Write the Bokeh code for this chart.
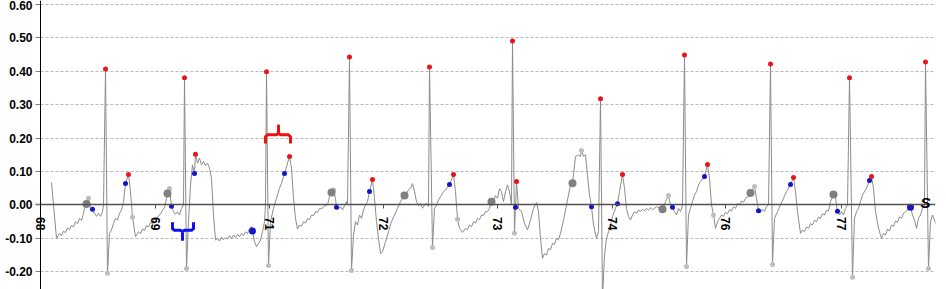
import math
from bokeh.plotting import figure
from bokeh.models import Range1d, FixedTicker, Label, NumeralTickFormatter, Span
from bokeh.embed import file_html
from bokeh.resources import INLINE

# ECG trace: sample index and amplitude (mV)
trace_t = [11, 16, 19, 21, 23, 25, 27, 29, 31, 33, 35, 37, 39, 41, 43, 44, 46, 48, 50, 52,
           54, 56, 58, 60, 62, 63, 65, 67, 69, 71, 73, 75, 77, 79, 81, 83, 85, 88, 90, 92,
           95, 98, 100, 102, 104, 106, 108, 110, 112, 114, 116, 118, 120, 122, 124, 126, 127, 129, 131, 133,
           135, 137, 139, 141, 143, 144, 146, 148, 150, 152, 154, 155, 157, 159, 161, 163, 165, 167, 169, 171,
           173, 175, 177, 179, 181, 183, 185, 187, 189, 191, 193, 195, 197, 199, 201, 203, 205, 207, 209, 211,
           212, 214, 216, 218, 220, 222, 224, 225, 226, 228, 230, 233, 236, 239, 241, 244, 249, 251, 253, 255,
           257, 259, 261, 263, 265, 267, 269, 271, 273, 275, 277, 279, 281, 283, 285, 287, 289, 291, 293, 295,
           296, 298, 300, 302, 304, 306, 307, 309, 311, 313, 315, 317, 319, 321, 323, 325, 327, 329, 332, 334,
           336, 338, 340, 342, 345, 348, 351, 354, 357, 360, 362, 364, 366, 368, 370, 372, 374, 376, 378, 380,
           382, 384, 386, 388, 389, 392, 394, 396, 398, 400, 403, 405, 409, 413, 415, 417, 419, 422, 425, 427,
           429, 431, 433, 435, 437, 439, 441, 443, 445, 447, 449, 451, 453, 455, 457, 459, 461, 463, 465, 467,
           469, 471, 472, 474, 475, 476, 478, 481, 484, 487, 490, 493, 496, 498, 500, 502, 504, 506, 508, 510,
           512, 514, 516, 518, 520, 523, 526, 530, 532, 535, 538, 540, 541, 543, 545, 547, 549, 551, 553, 556,
           558, 560, 562, 564, 566, 568, 570, 572, 575, 577, 579, 582, 584, 586, 588, 590, 592, 594, 596, 598,
           600, 602, 604, 606, 608, 610, 612, 614, 616, 618, 620, 622, 625, 628, 630, 632, 634, 636, 638, 640,
           642, 644, 646, 648, 650, 652, 654, 656, 658, 660, 664, 667, 669, 671, 673, 675, 677, 679, 681, 683,
           685, 687, 689, 691, 693, 695, 697, 699, 701, 703, 705, 708, 710, 714, 716, 718, 720, 722, 724, 726,
           728, 730, 732, 734, 737, 740, 743, 746, 750, 753, 755, 757, 760, 762, 764, 766, 768, 770, 772, 774,
           776, 778, 780, 782, 784, 786, 788, 790, 793, 795, 797, 799, 801, 803, 805, 807, 809, 812, 814, 816,
           818, 820, 822, 826, 829, 831, 833, 835, 838, 841, 843, 845, 847, 849, 851, 853, 855, 857, 859, 861,
           863, 865, 868, 870, 872, 874, 876, 878, 880, 882, 884, 885, 888, 890, 892, 894, 896, 898]
trace_mv = [0.067, -0.100, -0.085, -0.092, -0.078, -0.083, -0.068, -0.074, -0.060, -0.066, -0.050, -0.056, -0.040, -0.046, -0.025, -0.010, 0.003, 0.020, -0.005, -0.013,
            -0.025, -0.034, -0.025, -0.034, -0.020, 0.000, 0.407, -0.204, -0.085, -0.075, -0.055, -0.040, -0.045, -0.025, -0.015, 0.010, 0.064, 0.091, 0.040, -0.037,
            -0.095, -0.080, -0.086, -0.072, -0.076, -0.062, -0.066, -0.052, -0.056, -0.042, -0.046, -0.032, -0.028, -0.015, -0.008, 0.020, 0.034, 0.049, -0.004, -0.020,
            -0.028, -0.020, -0.030, -0.010, 0.000, 0.381, -0.190, -0.050, 0.060, 0.120, 0.094, 0.152, 0.125, 0.140, 0.120, 0.130, 0.118, 0.125, 0.110, 0.080,
            -0.030, -0.105, -0.100, -0.108, -0.096, -0.104, -0.098, -0.102, -0.092, -0.100, -0.090, -0.097, -0.088, -0.095, -0.085, -0.092, -0.080, -0.086, -0.070, -0.064,
            -0.078, -0.110, -0.125, -0.115, -0.105, -0.080, -0.050, 0.000, 0.399, -0.181, -0.050, -0.010, 0.020, 0.050, 0.065, 0.094, 0.145, 0.110, 0.020, -0.040,
            -0.072, -0.060, -0.064, -0.050, -0.054, -0.040, -0.044, -0.030, -0.032, -0.020, -0.022, -0.010, -0.012, -0.005, -0.002, 0.000, 0.025, 0.037, 0.045, 0.020,
            -0.007, -0.012, -0.005, -0.015, -0.002, 0.010, 0.000, 0.443, -0.196, -0.090, -0.050, -0.060, -0.030, -0.040, -0.015, 0.000, 0.010, 0.040, 0.076, 0.020,
            -0.050, -0.100, -0.145, -0.140, -0.110, -0.080, -0.050, -0.030, -0.010, 0.010, 0.020, 0.028, 0.035, 0.045, 0.050, 0.064, 0.040, 0.010, -0.002, 0.005,
            -0.010, 0.000, 0.005, -0.005, 0.413, -0.127, -0.010, 0.000, 0.015, 0.025, 0.040, 0.045, 0.061, 0.091, 0.040, -0.043, -0.070, -0.082, -0.070, -0.074,
            -0.060, -0.065, -0.050, -0.054, -0.040, -0.044, -0.030, -0.032, -0.020, -0.020, -0.010, 0.010, 0.010, 0.028, 0.020, 0.049, 0.040, 0.010, 0.040, 0.060,
            0.040, 0.000, 0.491, -0.085, -0.007, 0.070, -0.010, -0.020, -0.055, -0.075, -0.045, -0.010, 0.007, -0.020, -0.100, -0.160, -0.145, -0.150, -0.130, -0.134,
            -0.115, -0.118, -0.100, -0.104, -0.085, -0.046, 0.000, 0.060, 0.065, 0.145, 0.150, 0.145, 0.163, 0.145, 0.150, 0.088, 0.030, -0.005, -0.060, -0.100,
            -0.080, 0.318, -0.280, -0.150, -0.100, -0.080, -0.060, -0.035, -0.010, 0.004, 0.040, 0.091, 0.050, -0.010, -0.035, -0.045, -0.030, -0.020, -0.025, -0.015,
            -0.020, -0.012, -0.018, -0.010, -0.016, -0.008, -0.014, -0.010, -0.005, -0.008, -0.012, -0.013, 0.010, 0.028, 0.000, -0.007, -0.020, -0.030, -0.010, -0.020,
            0.000, 0.449, -0.184, -0.030, -0.010, 0.010, 0.030, 0.040, 0.060, 0.070, 0.085, 0.121, 0.080, 0.000, -0.030, -0.070, -0.050, -0.040, -0.030, -0.034,
            -0.022, -0.026, -0.014, -0.018, -0.006, -0.010, 0.004, 0.000, 0.012, 0.008, 0.020, 0.025, 0.036, 0.055, 0.020, -0.017, -0.022, -0.012, -0.020, -0.005,
            0.000, 0.422, -0.178, -0.040, -0.020, 0.000, 0.020, 0.040, 0.061, 0.082, 0.040, -0.020, -0.085, -0.075, -0.080, -0.066, -0.070, -0.056, -0.060, -0.046,
            -0.050, -0.036, -0.040, -0.026, -0.030, -0.016, -0.018, 0.010, 0.031, 0.020, -0.019, -0.030, -0.020, -0.030, -0.010, 0.000, 0.381, -0.216, -0.040, -0.020,
            -0.010, 0.010, 0.030, 0.050, 0.073, 0.085, 0.050, -0.020, -0.070, -0.100, -0.085, -0.090, -0.072, -0.078, -0.060, -0.064, -0.048, -0.052, -0.036, -0.040,
            -0.025, -0.020, -0.012, -0.007, -0.030, -0.045, -0.070, -0.040, -0.030, -0.010, 0.000, 0.428, -0.190, -0.050, -0.030, -0.045, -0.060, -0.100]

# R peaks (red)
r_t = [65, 144, 226, 309, 389, 472, 560, 644, 730, 809, 885]
r_mv = [0.407, 0.381, 0.399, 0.443, 0.413, 0.491, 0.318, 0.449, 0.422, 0.381, 0.428]
# T peaks (red)
tp_t = [88, 155, 249, 332, 413, 476, 582, 667, 753, 831]
tp_mv = [0.091, 0.152, 0.145, 0.076, 0.091, 0.070, 0.091, 0.121, 0.082, 0.085]
# blue markers
b_t = [52, 85, 131, 154, 244, 296, 329, 409, 475, 551, 577, 632, 664, 718, 750, 797, 829]
b_mv = [-0.013, 0.064, -0.004, 0.094, 0.094, -0.007, 0.040, 0.061, -0.007, -0.005, 0.004, -0.007, 0.085, -0.017, 0.061, -0.019, 0.073]
bb_t = [212, 870]
bb_mv = [-0.078, -0.007]
# P wave markers (gray)
p_t = [46, 127, 291, 364, 451, 532, 622, 710, 793]
p_mv = [0.003, 0.034, 0.037, 0.028, 0.010, 0.065, -0.013, 0.036, 0.031]
# light gray markers (S troughs, wave ends)
s_t = [67, 146, 228, 311, 392, 474, 646, 732, 812, 888, 48, 129, 293, 541, 628, 714, 92, 417, 673]
s_mv = [-0.204, -0.190, -0.181, -0.196, -0.127, -0.085, -0.184, -0.178, -0.216, -0.190,
        0.020, 0.049, 0.045, 0.163, 0.028, 0.055, -0.037, -0.043, -0.030]

# brace annotations
red_brace_t = [225, 225, 227, 236, 238, 238, 238, 240, 248, 250, 250]
red_brace_mv = [0.184, 0.204, 0.210, 0.210, 0.215, 0.237, 0.215, 0.210, 0.210, 0.204, 0.184]
blue_brace_t = [132, 132, 134, 140, 142, 142, 142, 144, 151, 153, 153]
blue_brace_mv = [-0.052, -0.071, -0.076, -0.076, -0.080, -0.103, -0.080, -0.076, -0.076, -0.071, -0.052]

x_ticks = [0, 115, 229, 343, 457, 572, 685, 801]
x_tick_labels = ["68", "69", "71", "72", "73", "74", "76", "77"]
y_ticks = [-0.2, -0.1, 0.0, 0.1, 0.2, 0.3, 0.4, 0.5, 0.6]

p = figure(width=946, height=289, output_backend="svg", toolbar_location=None,
           x_range=Range1d(-5, 895), y_range=Range1d(-0.253, 0.612),
           min_border_left=35, min_border_right=11, min_border_top=0, min_border_bottom=0)
p.outline_line_color = None
p.background_fill_color = "white"
p.border_fill_color = "white"

# y axis (line drawn at t = 0 as a span)
p.yaxis.ticker = FixedTicker(ticks=y_ticks)
p.yaxis.formatter = NumeralTickFormatter(format="0.00")
p.yaxis.axis_line_color = None
p.yaxis.major_tick_in = 5
p.yaxis.major_tick_out = 0
p.yaxis.major_tick_line_color = "#808080"
p.yaxis.minor_tick_line_color = None
p.yaxis.major_label_text_font = "Liberation Sans"
p.yaxis.major_label_text_font_style = "bold"
p.yaxis.major_label_text_font_size = "12px"
p.yaxis.major_label_text_color = "black"
p.yaxis.major_label_standoff = 3

# x axis at zero
p.xaxis.fixed_location = 0
p.xaxis.ticker = FixedTicker(ticks=x_ticks)
p.xaxis.major_label_overrides = {t: l for t, l in zip(x_ticks, x_tick_labels)}
p.xaxis.axis_line_color = "#505050"
p.xaxis.axis_line_width = 1.5
p.xaxis.major_tick_in = 0
p.xaxis.major_tick_out = 4
p.xaxis.major_tick_line_color = "#505050"
p.xaxis.minor_tick_line_color = None
p.xaxis.major_label_orientation = -math.pi / 2
p.xaxis.major_label_text_font = "Liberation Sans"
p.xaxis.major_label_text_font_style = "bold"
p.xaxis.major_label_text_font_size = "12px"
p.xaxis.major_label_text_color = "black"
p.xaxis.major_label_standoff = 8

p.xgrid.visible = False
p.ygrid.ticker = FixedTicker(ticks=y_ticks)
p.ygrid.grid_line_color = "#b8b8b8"
p.ygrid.grid_line_dash = "3 2"
p.ygrid.grid_line_width = 1

p.add_layout(Span(location=0, dimension="height", line_color="black", line_width=1))

p.line(trace_t, trace_mv, color="#8c8c8c", line_width=1)

p.scatter(s_t, s_mv, size=5, color="#bdbdbd", line_color=None)
p.scatter(p_t, p_mv, size=8, color="#808080", line_color=None)
p.scatter(b_t, b_mv, size=5, color="#1414c8", line_color=None)
p.scatter(bb_t, bb_mv, size=7, color="#1414c8", line_color=None)
p.scatter(r_t, r_mv, size=5, color="#e8141e", line_color=None)
p.scatter(tp_t, tp_mv, size=5, color="#e8141e", line_color=None)

p.line(red_brace_t, red_brace_mv, color="#ee1111", line_width=3, line_join="round")
p.line(blue_brace_t, blue_brace_mv, color="#1111ee", line_width=3, line_join="round")

p.add_layout(Label(x=880, y=0.006, text="S", text_font="Liberation Sans",
                   text_font_style="bold italic", text_font_size="15px",
                   text_color="black", text_baseline="alphabetic"))

open("out.html", "w").write(file_html(p, INLINE))
